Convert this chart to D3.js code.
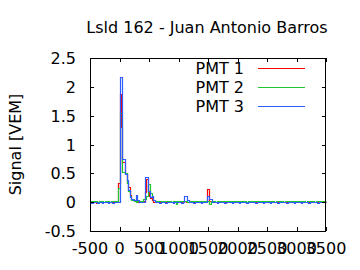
<!DOCTYPE html>
<html>
<head>
<meta charset="utf-8">
<script src="https://cdn.jsdelivr.net/npm/d3@7"></script>
<style>
  body { margin: 0; background: #fff; }
  svg { display: block; }
  text { font-family: "DejaVu Sans", sans-serif; fill: #000; }
</style>
</head>
<body>
<svg id="chart" width="360" height="270"></svg>
<script>
// Lsld 162 trace -- three PMT signals, 25 ns bins starting at -500 ns

var title = "Lsld 162 - Juan Antonio Barros";
var yLabel = "Signal [VEM]";
var seriesNames = ["PMT 1", "PMT 2", "PMT 3"];
var seriesColors = ["#ff0000", "#1ec832", "#2e5cff"];
var xTicks = [-500, 0, 500, 1000, 1500, 2000, 2500, 3000, 3500];
var yTicks = [-0.5, 0, 0.5, 1, 1.5, 2, 2.5];
var binStart = -500, binWidth = 25;

var pmt1 = [
  0,0.01,0,0,-0.01,0,0.01,0,0,0.01,0,0,-0.01,0,0.01,0,0,0,0.01,0.33,
  1.87,1.3,0.69,0.69,0.5,0.33,0.27,0.12,0.05,0.03,0.02,0.02,0.01,0.02,0,0.01,0.02,0.18,0.4,0.2,
  0.1,0.08,0.03,0.01,0,0.01,0,0,0.01,0,0,0.01,0,0,0.01,0,0,0.01,0,0,
  0.01,0,0,0,0.02,0.01,0,0,0.01,0,0,0.01,0,0,0.01,0,0,0.01,0,0.23,
  0.23,0.02,0,0.01,0,0,0.01,0,0,0.01,0,0,0.01,0,0,0.01,0,0.01,0,0,
  0.01,0,0,0.01,0,0,0.01,0,0,0.01,0,0,0.01,0,0,0.01,0,0,0.01,0,
  0,0.01,0,0,0.01,0,0,0.01,0,0,0.01,0,0,0.01,0,0,0.01,0,0,0.01,
  0,0,0.01,0,0,0.01,0,0,0.01,0,0,0.01,0,0,0.01,0,0,0.01,0,0
];
var pmt2 = [
  0.02,0.02,0.01,0.02,0.02,0.01,0.02,0.02,0.02,0.01,0.02,0.02,0.02,0.01,0.02,0.02,0.02,0.02,0.02,0.25,
  1.55,1.55,0.52,0.52,0.5,0.33,0.2,0.1,0.04,0.06,0.02,0.01,0.02,0.02,0.02,0.02,0.05,0.05,0.1,0.32,
  0.32,0.16,0.1,0.03,0.02,0.02,0.01,0.02,0.02,0.02,0.01,0.02,0.02,0.02,0.02,0.01,0.02,0.02,-0.03,0.02,
  0.01,0.02,0.02,0.02,0.02,0.02,0.01,0.02,0.02,0.02,0.02,0.01,0.02,0.02,0.02,0.02,0.02,0.01,0.02,0.02,
  0.02,-0.03,0.02,0.02,0.02,0.01,0.02,0.02,0.02,0.02,0.01,0.02,0.02,0.02,0.02,0.02,0.01,0.02,0.02,0.02,
  0.02,0.01,0.02,0.02,0.02,0.02,0.01,0.02,0.02,0.02,0.02,0.01,0.02,0.02,0.02,0.01,0.02,0.02,0.02,0.02,
  0.01,0.02,0.02,0.02,0.02,0.01,0.02,0.02,0.02,0.02,0.02,0.01,0.02,0.02,0.02,0.02,0.01,0.02,0.02,0.02,
  0.02,0.01,0.02,0.02,0.02,0.02,0.01,0.02,0.02,0.02,0.02,0.02,0.01,0.02,0.02,0.02,0.02,0.01,0.02,0.02
];
var pmt3 = [
  0,-0.01,0,0,0,-0.01,0,0,-0.01,0,0,0,-0.01,0,0,-0.01,0,0,0,0,
  2.17,2.17,0.74,0.74,0.48,0.39,0.21,0.09,0.05,0.03,0.03,0.12,0.03,0,0,0.01,0,0.43,0.43,0.2,
  0.2,0.09,0.1,0.03,0.01,0,0,-0.01,0,0,0,-0.01,0,0,0,0,-0.01,0,0,0,
  0,0,-0.01,0,0.11,0.11,0.04,0,0,0,-0.01,0,0,0,0,-0.01,0,0,0,0.1,
  0.1,0.05,0.05,0.01,0,0,-0.01,0,0,0,0,-0.01,0,0,0,0,-0.01,0,0,0,
  0,-0.01,0,0,0,0,-0.01,0,0,0,0,0,-0.01,0,0,0,0,-0.01,0,0,
  0,0,-0.01,0,0,0,0,-0.01,0,0,0,0,0,-0.01,0,0,0,0,-0.01,0,
  0,0,0,-0.01,0,0,0,0,-0.01,0,0,0,0,0,-0.01,0,0,0,0,0
];
var series = [pmt1, pmt2, pmt3];

///////////////////////////////////////////////////////////////////////////////
// Layout

var svg = d3.select("#chart");
var plotL = 90, plotR = 326, plotT = 58, plotB = 231;

var x = d3.scaleLinear().domain([-500, 3500]).range([plotL, plotR]);
var y = d3.scaleLinear().domain([-0.5, 2.5]).range([plotB, plotT]);

svg.append("text")
  .attr("x", 207).attr("y", 33)
  .attr("text-anchor", "middle")
  .style("font-size", "16px")
  .text(title);

svg.append("text")
  .attr("transform", "translate(21," + (plotT + plotB) / 2 + ") rotate(-90)")
  .attr("text-anchor", "middle")
  .style("font-size", "16px")
  .text(yLabel);

///////////////////////////////////////////////////////////////////////////////
// Traces (gnuplot histeps style)

var toPoints = function (vals) {
  var pts = vals.map(function (v, i) { return [binStart + i * binWidth, v]; });
  pts.push([binStart + vals.length * binWidth, vals[vals.length - 1]]);
  return pts;
};

var line = d3.line()
  .x(function (d) { return Math.round(x(d[0])) + 0.5; })
  .y(function (d) { return Math.round(y(d[1])) + 0.5; })
  .curve(d3.curveStepAfter);

var traces = svg.append("g");
series.forEach(function (vals, k) {
  traces.append("path")
    .attr("d", line(toPoints(vals)))
    .attr("fill", "none")
    .attr("stroke", seriesColors[k])
    .attr("stroke-width", 1.2);
});

///////////////////////////////////////////////////////////////////////////////
// Axes and frame

var tickLen = 4;
var axes = svg.append("g").attr("stroke", "#000").attr("stroke-width", 1)
  .attr("shape-rendering", "crispEdges");

xTicks.forEach(function (t) {
  var px = Math.round(x(t)) + 0.5;
  axes.append("line").attr("x1", px).attr("x2", px).attr("y1", plotB).attr("y2", plotB - tickLen);
  axes.append("line").attr("x1", px).attr("x2", px).attr("y1", plotT).attr("y2", plotT + tickLen);
  svg.append("text")
    .attr("x", x(t)).attr("y", 254)
    .attr("text-anchor", "middle")
    .style("font-size", "16px")
    .text(t);
});

yTicks.forEach(function (t) {
  var py = Math.round(y(t)) + 0.5;
  axes.append("line").attr("x1", plotL).attr("x2", plotL + tickLen).attr("y1", py).attr("y2", py);
  axes.append("line").attr("x1", plotR).attr("x2", plotR - tickLen).attr("y1", py).attr("y2", py);
  svg.append("text")
    .attr("x", 76).attr("y", y(t) + 6)
    .attr("text-anchor", "end")
    .style("font-size", "16px")
    .text(t);
});

axes.append("rect")
  .attr("x", plotL + 0.5).attr("y", plotT + 0.5)
  .attr("width", plotR - plotL - 1).attr("height", plotB - plotT)
  .attr("fill", "none");

///////////////////////////////////////////////////////////////////////////////
// Legend

var legend = svg.append("g");
seriesNames.forEach(function (name, k) {
  var ly = 68 + k * 19;
  legend.append("text")
    .attr("x", 244).attr("y", ly + 5.5)
    .attr("text-anchor", "end")
    .style("font-size", "16px")
    .text(name);
  legend.append("line")
    .attr("x1", 258).attr("x2", 305)
    .attr("y1", ly + 0.5).attr("y2", ly + 0.5)
    .attr("stroke", seriesColors[k])
    .attr("stroke-width", 1.2);
});
</script>
</body>
</html>
